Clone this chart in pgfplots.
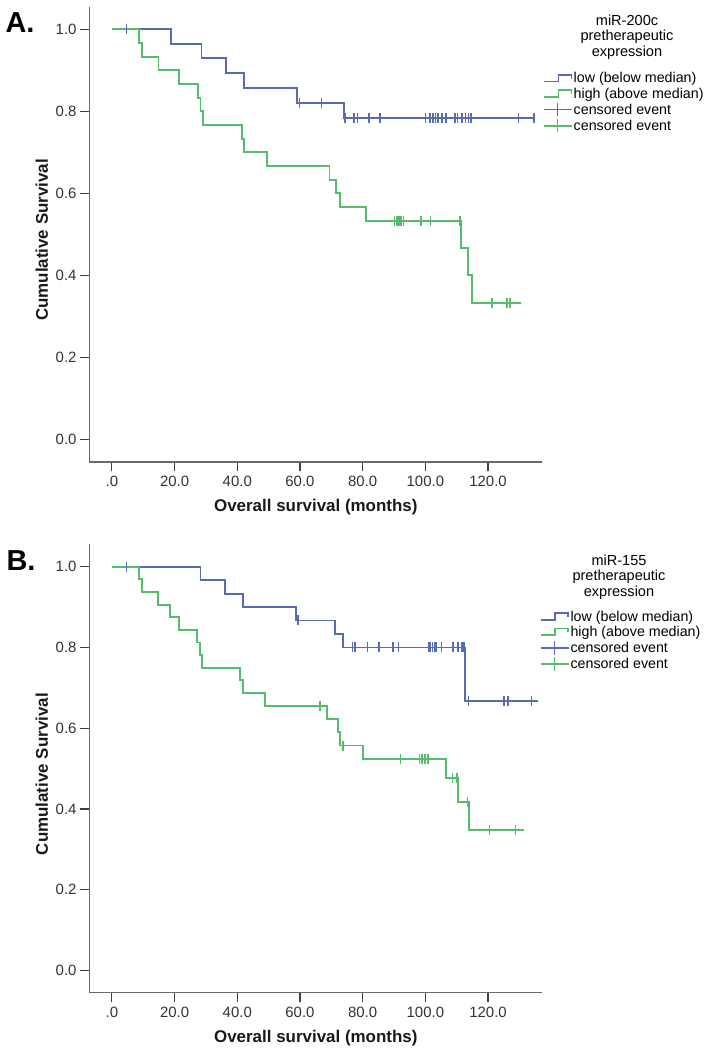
\documentclass[border=0pt]{standalone}
\usepackage{fontspec}
\setmainfont{Liberation Sans}
\usepackage{pgfplots}
\pgfplotsset{compat=1.18}
\definecolor{kmblue}{RGB}{88,108,182}
\definecolor{kmgreen}{RGB}{84,188,106}
\definecolor{axgray}{RGB}{105,105,105}
\pgfplotsset{
  kmaxis/.style={
    scale only axis, width=453bp,
    xmin=-7.2, xmax=137.3, ymin=-0.055, ymax=1.055,
    axis x line*=bottom, axis y line*=left,
    axis line style={axgray, line width=1.1bp},
    tick align=outside, major tick length=9.3bp,
    tick style={black!75, line width=1.2bp},
    xtick={0,20,40,60,80,100,120}, xticklabels={.0,20.0,40.0,60.0,80.0,100.0,120.0},
    ytick={0,0.2,0.4,0.6,0.8,1.0}, yticklabels={0.0,0.2,0.4,0.6,0.8,1.0},
    ticklabel style={font=\fontsize{15}{17}\selectfont, text=black!80},
    xticklabel style={anchor=center, yshift=-10bp},
    yticklabel style={anchor=east, xshift=0bp},
    xlabel={Overall survival (months)}, ylabel={Cumulative Survival},
    label style={font=\fontsize{17}{20}\selectfont\bfseries, text=black!90},
    ylabel style={at={(axis description cs:-0.105,0.4876)}, anchor=center},
    legend cell align=left,
    clip=false,
  },
  kmlegend/.style={
    legend style={at={#1}, anchor=north west, draw=none, fill=none,
      inner sep=0pt, outer sep=0pt, row sep=0pt, /tikz/column sep=0pt,
      font=\fontsize{14.3}{16}\selectfont,
      nodes={inner sep=0.8bp, text height=10.5bp, text depth=3.1bp, anchor=base west}},
  },
  stepblue/.style={legend image code/.code={\draw[kmblue,line width=1.7bp] (0bp,1.4bp) -- (14.3bp,1.4bp) -- (14.3bp,8bp) -- (27.3bp,8bp) -- (27.3bp,4bp);}},
  stepgreen/.style={legend image code/.code={\draw[kmgreen,line width=1.7bp] (0bp,1.4bp) -- (14.3bp,1.4bp) -- (14.3bp,8bp) -- (27.3bp,8bp) -- (27.3bp,4bp);}},
  censblue/.style={legend image code/.code={\draw[kmblue,line width=1.7bp] (0bp,4.7bp) -- (28bp,4.7bp) (13.5bp,-2bp) -- (13.5bp,11.4bp);}},
  censgreen/.style={legend image code/.code={\draw[kmgreen,line width=1.7bp] (0bp,4.7bp) -- (28bp,4.7bp) (13.5bp,-2bp) -- (13.5bp,11.4bp);}},
  kmline/.style={const plot, no marks, line width=1.8bp},
  kmcens/.style={only marks, mark=|, mark size=5bp, mark options={line width=1.6bp}},
}
\begin{document}
\begin{tikzpicture}
\path[use as bounding box] (0,0) rectangle (706bp,1050bp);
% ---------- Panel A ----------
\begin{axis}[kmaxis, height=455.3bp, at={(89.3bp,588bp)}, anchor=south west,
  xlabel style={at={(axis description cs:0.5,-0.0988)}, anchor=center},
  kmlegend={(axis description cs:1.002,0.8575)}]
\addplot[kmline, kmblue, stepblue] coordinates {
(0,1) (18.8,0.964) (28.6,0.929) (36.4,0.893) (42.1,0.857) (59.1,0.821) (74.1,0.783) (135,0.783)};
\addlegendentry{low (below median)}
\addplot[kmline, kmgreen, stepgreen] coordinates {
(0,1) (8.7,0.967) (9.7,0.933) (14.9,0.9) (21.5,0.867) (27.5,0.833) (28.3,0.8) (29.1,0.767)
(41.4,0.733) (42.2,0.7) (49.6,0.667) (69.4,0.633) (71.6,0.6) (72.8,0.567) (81.0,0.533)
(111.4,0.467) (113.5,0.4) (114.9,0.333) (130.6,0.333)};
\addlegendentry{high (above median)}
\addplot[kmcens, kmblue, censblue] coordinates {
(4.7,1) (59.9,0.821) (66.9,0.821) (74.4,0.783) (77.2,0.783) (78.3,0.783) (82.1,0.783) (85.5,0.783)
(100.0,0.783) (101.5,0.783) (102.4,0.783) (103.2,0.783) (104.1,0.783) (105.4,0.783) (106.5,0.783)
(109.4,0.783) (110.2,0.783) (111.7,0.783) (112.8,0.783) (113.7,0.783) (114.6,0.783) (129.7,0.783) (134.7,0.783)};
\addlegendentry{censored event}
\addplot[kmcens, kmgreen, censgreen] coordinates {
(90.1,0.533) (90.9,0.533) (91.6,0.533) (92.2,0.533) (93.0,0.533) (98.7,0.533) (101.7,0.533) (111.1,0.533)
(121.3,0.333) (126.0,0.333) (127.0,0.333)};
\addlegendentry{censored event}
\end{axis}
\node[font=\fontsize{29}{30}\selectfont\bfseries] at (20bp,1027.5bp) {A.};
\node[font=\fontsize{14.6}{15.4}\selectfont, align=center] at (627bp,1013bp) {miR-200c\\pretherapeutic\\expression};
% ---------- Panel B ----------
\begin{axis}[kmaxis, height=448.2bp, at={(89.3bp,57.3bp)}, anchor=south west,
  xlabel style={at={(axis description cs:0.5,-0.101)}, anchor=center},
  kmlegend={(axis description cs:0.995,0.8539)}]
\addplot[kmline, kmblue, stepblue] coordinates {
(0,1) (28.3,0.967) (36.2,0.933) (41.8,0.9) (58.7,0.867) (71.2,0.833) (73.8,0.8) (112.7,0.667) (136,0.667)};
\addlegendentry{low (below median)}
\addplot[kmline, kmgreen, stepgreen] coordinates {
(0,1) (8.7,0.969) (9.7,0.938) (14.6,0.906) (18.6,0.875) (21.3,0.844) (27.2,0.8125) (28.1,0.781)
(28.7,0.75) (40.9,0.719) (41.9,0.688) (48.9,0.656) (68.5,0.623) (72.2,0.590) (72.7,0.557)
(80.2,0.524) (106.6,0.476) (110.5,0.417) (114.0,0.347) (131.5,0.347)};
\addlegendentry{high (above median)}
\addplot[kmcens, kmblue, censblue] coordinates {
(4.7,1) (59.3,0.867) (76.7,0.8) (77.6,0.8) (81.5,0.8) (85.2,0.8) (89.6,0.8) (91.4,0.8)
(101.1,0.8) (101.7,0.8) (102.3,0.8) (103.0,0.8) (103.6,0.8) (105.1,0.8) (108.9,0.8) (110.5,0.8)
(111.6,0.8) (112.4,0.8) (113.7,0.667) (125.1,0.667) (126.3,0.667) (133.9,0.667)};
\addlegendentry{censored event}
\addplot[kmcens, kmgreen, censgreen] coordinates {
(66.3,0.656) (73.8,0.557) (92.1,0.524) (98.1,0.524) (98.9,0.524) (99.8,0.524) (100.9,0.524)
(108.7,0.476) (110.0,0.476) (113.4,0.417) (120.4,0.347) (128.7,0.347)};
\addlegendentry{censored event}
\end{axis}
\node[font=\fontsize{29}{30}\selectfont\bfseries] at (21bp,489bp) {B.};
\node[font=\fontsize{14.6}{15.4}\selectfont, align=center] at (619bp,473bp) {miR-155\\pretherapeutic\\expression};
\end{tikzpicture}
\end{document}
